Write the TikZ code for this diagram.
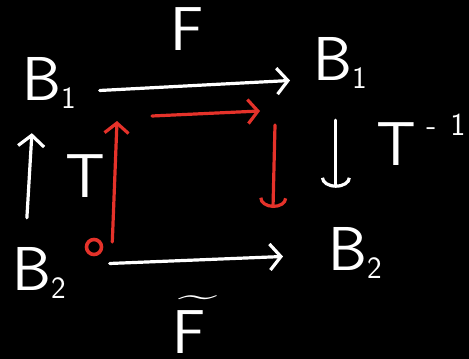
\documentclass[tikz,border=0pt]{standalone}
\usepackage{tikz}
\usetikzlibrary{positioning, arrows.meta, calc}
\definecolor{board}{HTML}{000000}
\definecolor{chalk}{HTML}{FFFFFF}
\definecolor{marker}{HTML}{E5322A}
\newcommand{\lowidx}[1]{\raisebox{-8pt}{\fontsize{31}{31}\selectfont #1}}
\newcommand{\highidx}[1]{\raisebox{30pt}{\fontsize{32}{32}\selectfont #1}}
\tikzset{
  sym/.style    = {inner sep=0pt, text=chalk, anchor=base west,
                   font=\sffamily\fontsize{62}{62}\selectfont},
  ar/.style     = {-{Straight Barb[length=11pt,width=26pt]}, draw=chalk,
                   line width=3.2pt, line cap=round, line join=round},
  dar/.style    = {-{Arc Barb[length=10pt,width=30pt]}, draw=chalk,
                   line width=3.2pt, line cap=round, line join=round},
  rar/.style    = {-{Straight Barb[length=10pt,width=24pt]}, draw=marker,
                   line width=3.2pt, line cap=round, line join=round},
  rdar/.style   = {-{Arc Barb[length=10pt,width=28pt]}, draw=marker,
                   line width=3.2pt, line cap=round, line join=round},
  spot/.style   = {circle, draw=marker, line width=3.6pt, minimum size=15pt,
                   inner sep=0pt},
}
\begin{document}
\begin{tikzpicture}[x=1pt, y=-1pt]
  \useasboundingbox[fill=board] (0,0) rectangle (469,359);

  % the four corners
  \node[sym] (b1l) at (22,100)  {B\lowidx{1}};
  \node[sym] (b1r) at (313,80)  {B\lowidx{1}};
  \node[sym] (b2l) at (12,290)  {B\lowidx{2}};
  \node[sym] (b2r) at (328,270) {B\lowidx{2}};

  % map names
  \node[sym] (fmap) at (170,50)  {F};
  \node[sym] (ftil) at (172,353)
       {\ooalign{F\cr\hspace{6pt}\raisebox{47pt}{\fontsize{44}{44}\selectfont
        \scalebox{1.6}[0.8]{\textasciitilde}}\cr}};
  \node[sym] (tmap) at (65,197)  {T};
  \node[sym] (tinv) at (376,165) {T\,\highidx{-\hspace{14pt}1}};

  \draw[ar]  ([shift={(24,8)}]b1l.east)   -- ([shift={(-23,18)}]b1r.west);
  \draw[ar]  ([shift={(44,-9)}]b2l.east)  -- ([shift={(-45,4)}]b2r.west);
  \draw[ar]  ([shift={(-12,-29)}]b2l.north) -- ([shift={(-17,25)}]b1l.south);
  \draw[dar] ([shift={(-4,32)}]b1r.south) -- ([shift={(-19,-39)}]b2r.north);

  % red walk round the square
  \node[spot] (start) at (94,247) {};
  \coordinate (rtop)  at (117,121);
  \coordinate (racr)  at (152,116);
  \coordinate (rend)  at (260,111);
  \coordinate (rdown) at (275,125);
  \coordinate (rbot)  at (273,208);

  \draw[rar]  ([shift={(9,-5)}]start.east) -- (rtop);
  \draw[rar]  (racr) -- (rend);
  \draw[rdar] (rdown) -- (rbot);

\end{tikzpicture}
\end{document}
